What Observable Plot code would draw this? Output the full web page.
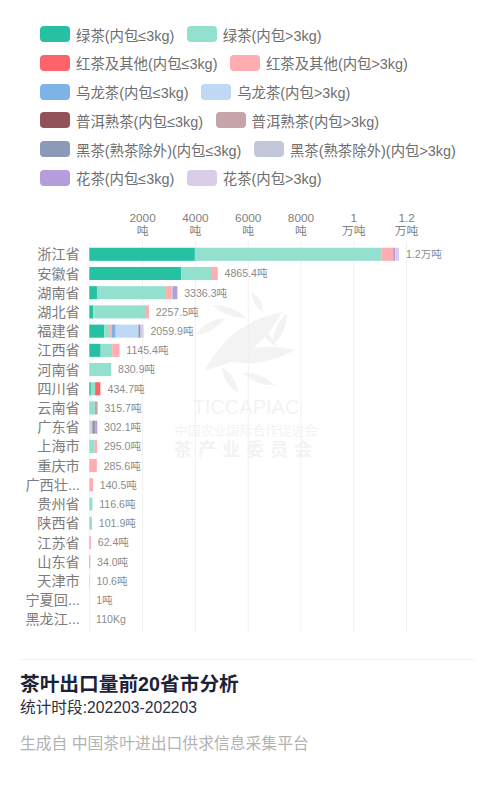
<!DOCTYPE html>
<html lang="zh">
<head>
<meta charset="utf-8">
<script src="https://cdn.jsdelivr.net/npm/d3@7"></script>
<script src="https://cdn.jsdelivr.net/npm/@observablehq/plot@0.6"></script>
<style>
html,body{margin:0;padding:0;background:#fff;width:495px;height:800px;overflow:hidden;font-family:"Liberation Sans","Noto Sans CJK SC",sans-serif}
#root{position:relative;width:495px;height:800px}
#legend{position:absolute;left:40px;top:26px}
.row{display:flex;align-items:center;height:16px;margin-bottom:12.8px;color:#6e6e6e;font-size:14.4px;white-space:nowrap}
.sw{width:30px;height:16px;border-radius:4px;margin-right:6px}
.lab{margin-right:12.5px}
#wm{position:absolute;left:0;top:0}
#chart{position:absolute;left:0;top:205px}
#chart svg{background:transparent}
#rule{position:absolute;left:20px;width:455px;top:659px;height:1px;background:#f3f3f3}
.t{position:absolute;left:20px;white-space:nowrap}
#title{top:672px;font-size:19.7px;line-height:24px;font-weight:700;color:#1b2238}
#sub{top:698px;font-size:15.7px;line-height:20px;color:#2b3040}
#src{top:734px;font-size:15.8px;line-height:20px;color:#b2b2b2}
</style>
</head>
<body>
<div id="root">
<svg id="wm" width="495" height="800"></svg>
<div id="legend"></div>
<div id="chart"></div>
<div id="rule"></div>
<div class="t" id="title">茶叶出口量前20省市分析</div>
<div class="t" id="sub">统计时段:202203-202203</div>
<div class="t" id="src">生成自 中国茶叶进出口供求信息采集平台</div>
</div>
<script>
const provinces = ["浙江省","安徽省","湖南省","湖北省","福建省","江西省","河南省","四川省","云南省","广东省","上海市","重庆市","广西壮...","贵州省","陕西省","江苏省","山东省","天津市","宁夏回...","黑龙江..."];
const totalLabels = ["1.2万吨","4865.4吨","3336.3吨","2257.5吨","2059.9吨","1145.4吨","830.9吨","434.7吨","315.7吨","302.1吨","295.0吨","285.6吨","140.5吨","116.6吨","101.9吨","62.4吨","34.0吨","10.6吨","1吨","110Kg"];

const greenLo  = [4000,3475,290,150,570,430,0,60,0,0,0,0,0,0,0,0,0,0,0,0];
const greenHi  = [7080,1137,2580,1960,180,440,830.9,160,210,0,200,0,0,116.6,101.9,0,0,0,0,0];
const redLo    = [0,0,0,0,0,0,0,190,0,0,0,0,0,0,0,0,0,0,0,0];
const redHi    = [430,253.4,230,147.5,100,275.4,0,24.7,0,0,95,285.6,140.5,0,0,62.4,0,0,0,0];
const oolongLo = [0,0,0,0,150,0,0,0,0,0,0,0,0,0,0,0,0,0,0,0];
const oolongHi = [0,0,0,0,860,0,0,0,0,90,0,0,0,0,0,0,0,0,0,0];
const puerLo   = [0,0,0,0,0,0,0,0,0,0,0,0,0,0,0,0,0,0,0,0];
const puerHi   = [0,0,0,0,0,0,0,0,105.7,50,0,0,0,0,0,0,34,10.6,1,0.11];
const blackLo  = [0,0,0,0,85,0,0,0,0,100,0,0,0,0,0,0,0,0,0,0];
const blackHi  = [0,0,70,0,0,0,0,0,0,0,0,0,0,0,0,0,0,0,0,0];
const flowerLo = [76,0,166.3,0,0,0,0,0,0,62.1,0,0,0,0,0,0,0,0,0,0];
const flowerHi = [150,0,0,0,114.9,0,0,0,0,0,0,0,0,0,0,0,0,0,0,0];

const seriesNames = ["绿茶(内包≤3kg)","绿茶(内包>3kg)","红茶及其他(内包≤3kg)","红茶及其他(内包>3kg)","乌龙茶(内包≤3kg)","乌龙茶(内包>3kg)","普洱熟茶(内包≤3kg)","普洱熟茶(内包>3kg)","黑茶(熟茶除外)(内包≤3kg)","黑茶(熟茶除外)(内包>3kg)","花茶(内包≤3kg)","花茶(内包>3kg)"];
const seriesValues = [greenLo,greenHi,redLo,redHi,oolongLo,oolongHi,puerLo,puerHi,blackLo,blackHi,flowerLo,flowerHi];
const seriesColors = ["#26c0a3","#93e0cf","#ff636a","#ffadb1","#7eb3e6","#bfd8f3","#93525a","#c6a5a9","#8a9ab8","#c2c8da","#b39ddb","#d9cde9"];

const tickValues = [2000,4000,6000,8000,10000,12000];
const tickLabels = ["2000\n吨","4000\n吨","6000\n吨","8000\n吨","1\n万吨","1.2\n万吨"];

const rows = seriesNames.flatMap((s,i)=>provinces.map((p,j)=>({province:p,series:s,value:seriesValues[i][j]}))).filter(d=>d.value>0);
const totals = provinces.map((p,j)=>({province:p,label:totalLabels[j],total:d3.sum(seriesValues,v=>v[j])}));

const plot = Plot.plot({
  width:495,height:430,
  marginLeft:89.3,marginRight:0,marginTop:36.6,marginBottom:3,
  style:{fontFamily:'"Liberation Sans","Noto Sans CJK SC",sans-serif',background:"transparent"},
  x:{domain:[0,405.7*37.88],range:[89.3,89.3+405.7],axis:null},
  y:{domain:provinces,padding:0.32,round:false,axis:null},
  color:{domain:seriesNames,range:seriesColors},
  marks:[
    Plot.gridX([0,...tickValues],{stroke:"#f0f0f0",strokeOpacity:1}),
    Plot.barX(rows,Plot.stackX({x:"value",y:"province",fill:"series",z:"series"})),
    Plot.text(totals,{x:"total",y:"province",text:"label",dx:6.3,textAnchor:"start",fontSize:10.6,fill:"#8c8c8c"}),
    Plot.axisX({anchor:"top",ticks:tickValues,tickFormat:d=>tickLabels[tickValues.indexOf(d)],tickSize:0,tickPadding:7,fontSize:11.8,lineHeight:1.08,fill:"#808080",label:null}),
    Plot.axisY({anchor:"left",tickSize:0,tickPadding:10,fontSize:14.2,fill:"#7c7c7c",label:null})
  ]
});
document.getElementById("chart").appendChild(plot);

const legend = document.getElementById("legend");
for(let i=0;i<seriesNames.length;i+=2){
  const r=document.createElement("div");r.className="row";
  [i,i+1].forEach(k=>{
    const s=document.createElement("div");s.className="sw";s.style.background=seriesColors[k];
    const t=document.createElement("div");t.className="lab";t.textContent=seriesNames[k];
    r.append(s,t);
  });
  legend.appendChild(r);
}

// faint decorative watermark behind the chart
const NS="http://www.w3.org/2000/svg",wm=document.getElementById("wm");
const leaves=[[205,370,282,312,.24],[220,360,295,350,.2],[212,305,247,318,.2],[252,293,263,312,.3],[195,335,225,318,.22],[287,313,273,345,.22],[257,325,277,347,.18],[222,367,238,393,.25],[243,373,275,385,.22]];
leaves.forEach(([a,b,c,d,k])=>{
  const mx=(a+c)/2,my=(b+d)/2,nx=-(d-b)*k,ny=(c-a)*k;
  const p=document.createElementNS(NS,"path");
  p.setAttribute("d",`M${a} ${b}Q${mx+nx} ${my+ny} ${c} ${d}Q${mx-nx} ${my-ny} ${a} ${b}Z`);
  p.setAttribute("fill","#f3f3f3");
  wm.appendChild(p);
});
[["TICCAPIAC",246,414,20,"#f3f3f3",400,0],["中国农业国际合作促进会",246,435,13,"#f3f3f3",400,0],["茶产业委员会",246,456,18,"#f3f3f3",700,6]].forEach(([s,x,y,f,c,w,ls])=>{
  const t=document.createElementNS(NS,"text");t.textContent=s;
  t.setAttribute("x",x);t.setAttribute("y",y);t.setAttribute("font-size",f);t.setAttribute("fill",c);t.setAttribute("font-weight",w);
  t.setAttribute("text-anchor","middle");t.setAttribute("letter-spacing",ls);
  wm.appendChild(t);
});
</script>
</body>
</html>
